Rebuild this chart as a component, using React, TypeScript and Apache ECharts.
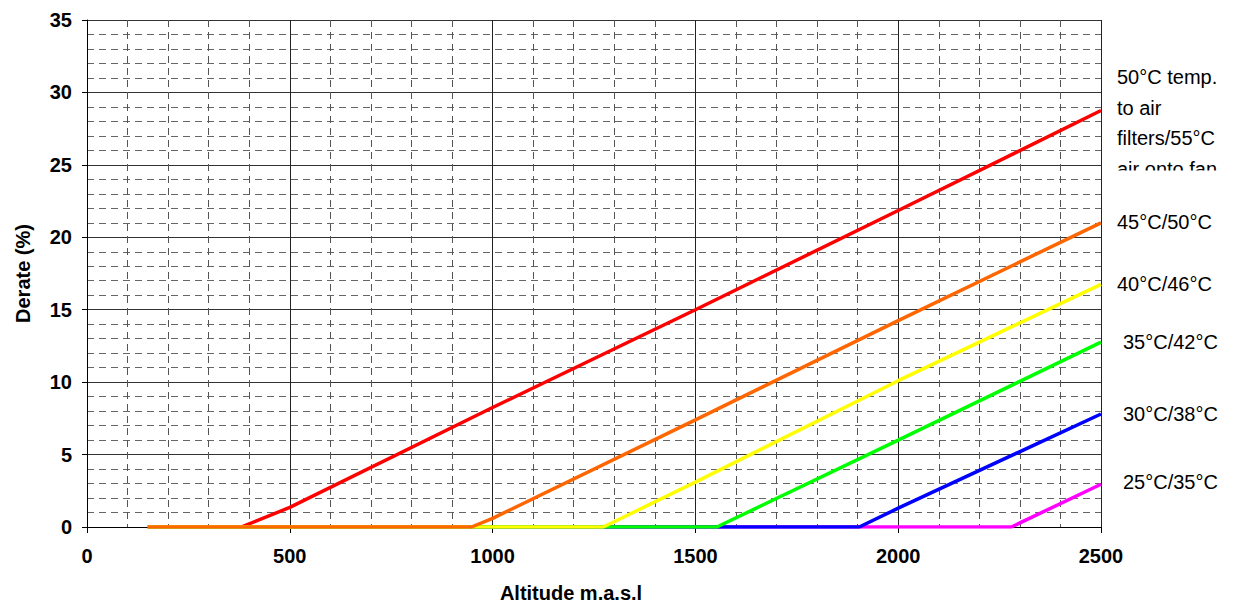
import React, { useEffect, useRef } from "react";
import * as echarts from "echarts";

// Altitude (m.a.s.l) / derate (%) points
const redAltitude = [150, 380, 500, 1000, 1500, 2000, 2500];
const redDerate = [0, 0, 1.35, 8.25, 15.0, 21.85, 28.75];

const orangeAltitude = [150, 948, 1000, 1500, 2000, 2500];
const orangeDerate = [0, 0, 0.6, 7.4, 14.25, 21.0];

const yellowAltitude = [150, 1273, 1500, 2000, 2500];
const yellowDerate = [0, 0, 3.1, 10.1, 16.75];

const greenAltitude = [150, 1553, 2000, 2500];
const greenDerate = [0, 0, 6.0, 12.76];

const blueAltitude = [150, 1904, 2000, 2500];
const blueDerate = [0, 0, 1.3, 7.8];

const magentaAltitude = [150, 2279, 2500];
const magentaDerate = [0, 0, 2.95];

const seriesNames = [
  "50°C temp. to air filters/55°C air onto fan",
  "45°C/50°C",
  "40°C/46°C",
  "35°C/42°C",
  "30°C/38°C",
  "25°C/35°C",
];

const labelLines50 = ["50°C temp.", "to air", "filters/55°C", "air onto fan"];

const FONT = "'Liberation Sans', Arial, Helvetica, sans-serif";

function zip(xs: number[], ys: number[]) {
  return xs.map((x, i) => [x, ys[i]]);
}

export default function App() {
  const ref = useRef<HTMLDivElement>(null);

  useEffect(() => {
    document.body.style.margin = "0";
    if (!ref.current) return;
    const chart = echarts.init(ref.current, undefined, { renderer: "svg" });

    const mk = (name: string, data: number[][], color: string) => ({
      name,
      type: "line",
      data,
      symbol: "none",
      lineStyle: { color, width: 3.5 },
      itemStyle: { color },
      z: 3,
    });

    const labelX = 1117;
    const labelStyle = (text: string, x: number, y: number) => ({
      type: "text",
      x,
      y,
      z: 10,
      style: {
        text,
        fill: "#000",
        fontSize: 20,
        fontFamily: FONT,
        verticalAlign: "middle",
        align: "left",
      },
    });

    const graphics: any[] = [];
    labelLines50.forEach((t, i) => {
      graphics.push(labelStyle(t, labelX, 77 + i * 30.5));
    });
    graphics.push({
      type: "rect",
      z: 11,
      shape: { x: 1104, y: 170.5, width: 138, height: 22 },
      style: { fill: "#fff" },
    });
    graphics.push(labelStyle(seriesNames[1], labelX, 222));
    graphics.push(labelStyle(seriesNames[2], labelX, 284));
    graphics.push(labelStyle(seriesNames[3], 1123, 342));
    graphics.push(labelStyle(seriesNames[4], 1123, 414));
    graphics.push(labelStyle(seriesNames[5], 1123, 482));

    const plain = (v: number) => String(v);

    chart.setOption({
      animation: false,
      backgroundColor: "#fff",
      grid: {
        left: 87,
        top: 20,
        width: 1014,
        height: 507,
        containLabel: false,
        outerBoundsMode: "none",
      },
      xAxis: {
        type: "value",
        min: 0,
        max: 2500,
        interval: 500,
        name: "Altitude m.a.s.l",
        nameLocation: "middle",
        nameGap: 56,
        nameTextStyle: {
          fontSize: 20,
          fontWeight: "bold",
          fontFamily: FONT,
          color: "#000",
          padding: [0, 46, 0, 0],
        },
        axisLine: { show: true, lineStyle: { color: "#000", width: 1 } },
        axisTick: { show: true, length: 6, lineStyle: { color: "#000" } },
        axisLabel: {
          fontSize: 20,
          fontWeight: "bold",
          fontFamily: FONT,
          color: "#000",
          margin: 19,
          formatter: plain,
        },
        splitLine: { show: true, lineStyle: { color: "#222", width: 1 } },
        minorTick: { show: true, splitNumber: 5, length: 0 },
        minorSplitLine: {
          show: true,
          lineStyle: { color: "#555", width: 1, type: [7, 5] },
        },
      },
      yAxis: {
        type: "value",
        min: 0,
        max: 35,
        interval: 5,
        name: "Derate (%)",
        nameLocation: "middle",
        nameGap: 54,
        nameTextStyle: {
          fontSize: 20,
          fontWeight: "bold",
          fontFamily: FONT,
          color: "#000",
        },
        axisLine: { show: true, lineStyle: { color: "#000", width: 1 } },
        axisTick: { show: true, length: 5, lineStyle: { color: "#000" } },
        axisLabel: {
          fontSize: 20,
          fontWeight: "bold",
          fontFamily: FONT,
          color: "#000",
          margin: 15,
          formatter: plain,
        },
        splitLine: { show: true, lineStyle: { color: "#333", width: 1 } },
        minorTick: { show: true, splitNumber: 5, length: 0 },
        minorSplitLine: {
          show: true,
          lineStyle: { color: "#666", width: 1, type: [7, 5] },
        },
      },
      series: [
        mk(seriesNames[0], zip(redAltitude, redDerate), "#ff0000"),
        mk(seriesNames[5], zip(magentaAltitude, magentaDerate), "#ff00ff"),
        mk(seriesNames[4], zip(blueAltitude, blueDerate), "#0000ff"),
        mk(seriesNames[3], zip(greenAltitude, greenDerate), "#00ff00"),
        mk(seriesNames[2], zip(yellowAltitude, yellowDerate), "#ffff00"),
        mk(seriesNames[1], zip(orangeAltitude, orangeDerate), "#ff6600"),
      ],
      graphic: graphics,
    });

    return () => chart.dispose();
  }, []);

  return <div ref={ref} style={{ width: 1242, height: 604 }} />;
}
